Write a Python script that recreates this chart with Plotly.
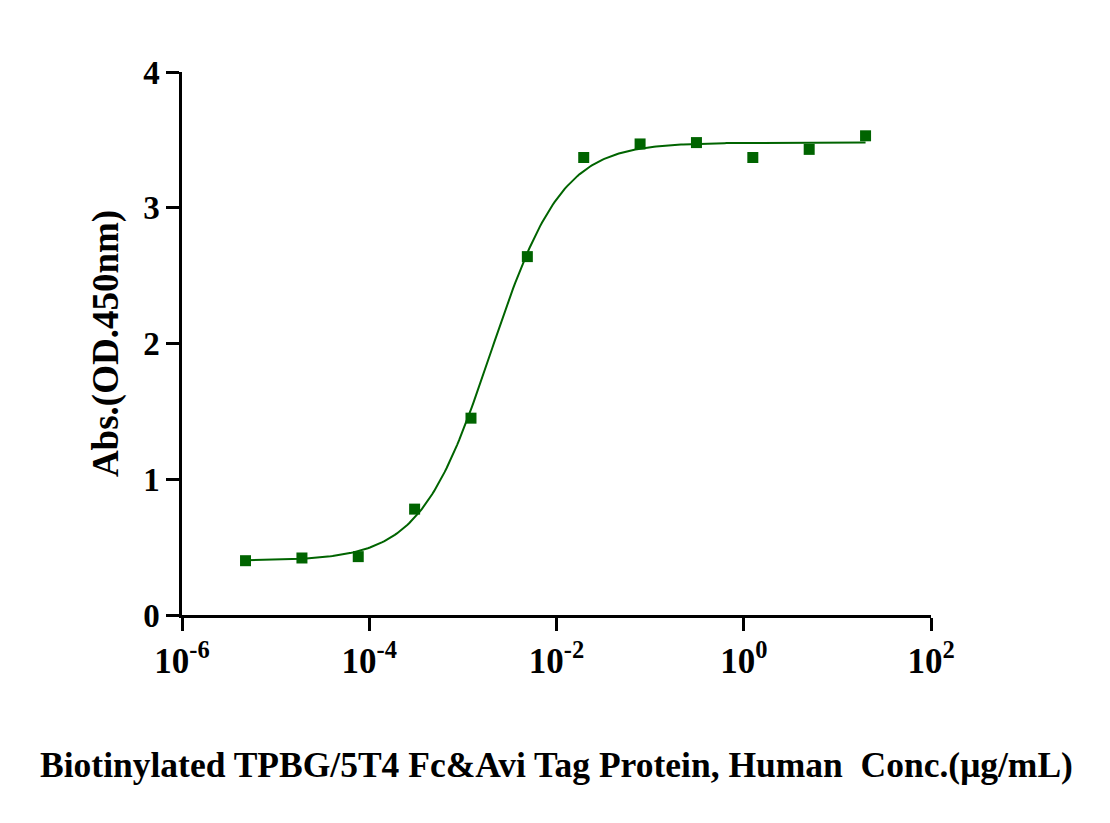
import numpy as np
import plotly.graph_objects as go

# 4-fold dilution series (ug/mL) and measured absorbance
conc = [20, 5, 1.25, 0.3125, 0.078125, 0.01953, 0.004883, 0.001221,
        0.0003052, 0.0000763, 0.0000191, 0.00000477]
absorb = [3.53, 3.43, 3.37, 3.48, 3.47, 3.37, 2.64, 1.45, 0.78, 0.43, 0.42, 0.40]

# 4PL fit parameters
bottom, top, ec50, hill = 0.40, 3.48, 0.0020, 1.15

green = "#006400"
font = "Liberation Serif"

xfit = np.logspace(np.log10(min(conc)), np.log10(max(conc)), 300)
yfit = bottom + (top - bottom) / (1 + (ec50 / xfit) ** hill)

fig = go.Figure()
fig.add_trace(go.Scatter(x=xfit, y=yfit, mode="lines",
                         line=dict(color=green, width=2), hoverinfo="skip"))
fig.add_trace(go.Scatter(x=conc, y=absorb, mode="markers",
                         marker=dict(symbol="square", size=11, color=green)))

fig.update_layout(
    width=1110, height=823,
    plot_bgcolor="white", paper_bgcolor="white",
    showlegend=False,
    margin=dict(l=174, r=187, t=64, b=216, autoexpand=False),
    font=dict(family=font, color="black"),
    xaxis=dict(
        type="log", range=[-6, 2],
        tickvals=[1e-6, 1e-4, 1e-2, 1, 100],
        ticktext=["10<sup>-6</sup>", "10<sup>-4</sup>", "10<sup>-2</sup>",
                  "10<sup>0</sup>", "10<sup>2</sup>"],
        ticks="outside", ticklen=13, tickwidth=2.5, tickcolor="black",
        showline=True, linecolor="black", linewidth=2.5,
        showgrid=False, zeroline=False,
        tickfont=dict(size=35, family=font, weight="bold"),
        title=dict(text="<b>Biotinylated TPBG/5T4 Fc&Avi Tag Protein, Human  Conc.(μg/mL)</b>",
                   font=dict(size=35.5, family=font), standoff=73),
    ),
    yaxis=dict(
        range=[0, 4], tickvals=[0, 1, 2, 3, 4],
        ticks="outside", ticklen=13, tickwidth=2.5, tickcolor="black",
        showline=True, linecolor="black", linewidth=2.5,
        showgrid=False, zeroline=False,
        tickfont=dict(size=33, family=font, weight="bold"),
        title=dict(text="<b>Abs.(OD.450nm)</b>",
                   font=dict(size=37, family=font), standoff=14),
    ),
)

fig.write_html("out.html")
